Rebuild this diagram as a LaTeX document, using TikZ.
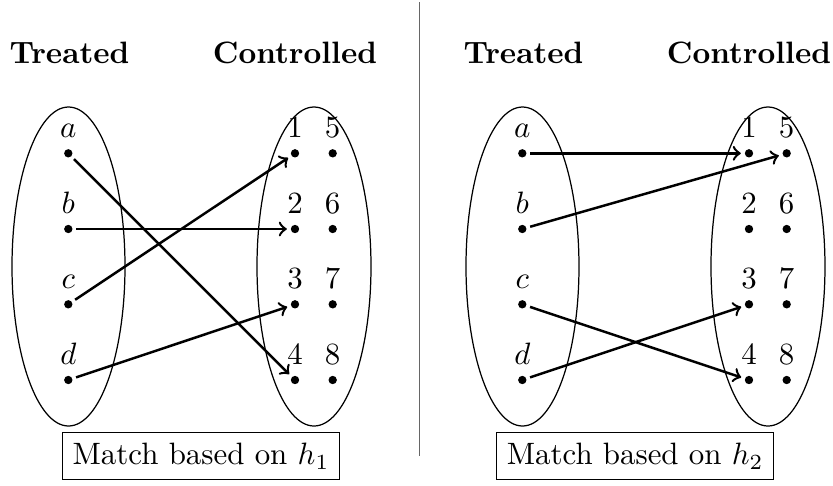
\documentclass[tikz,border=0pt]{standalone}
\begin{document}
\begin{tikzpicture}[x=0.3236pt,y=-0.3236pt,
  dot/.style={circle,fill,inner sep=0pt,minimum size=2.7pt,outer sep=1.3pt},
  lab/.style={anchor=base,inner sep=0pt},
  conn/.style={->,thick},
  setline/.style={draw,thin},
  hd/.style={font=\bfseries,anchor=base,inner sep=0pt},
  capbox/.style={draw,thin,inner sep=3.33pt},
  sepline/.style={draw=black!60,line width=0.5pt}]
\useasboundingbox (0,0) rectangle (833,485);
\foreach \p/\dx in {L/0,R/454} {
  \begin{scope}[shift={(\dx,0)}]
    \node[hd] (\p T) at (69.5,63.3) {Treated};
    \node[hd] (\p C) at (295,63.3) {Controlled};
    \draw[setline] (68.5,266.5) ellipse [x radius=56.5,y radius=159.5];
    \draw[setline] (314,266.5) ellipse [x radius=57,y radius=159.5];
    \foreach \n/\y in {a/153.3,b/229,c/304.3,d/380} {
      \node[dot] (\p\n) at (68.3,\y) {};
      \node[lab] (\p l\n) at (68.3,\y-15.6) {$\n$};
    }
    \foreach \n/\m/\y in {1/5/153.3,2/6/229,3/7/304.3,4/8/380} {
      \node[dot] (\p\n) at (295,\y) {};
      \node[dot] (\p\m) at (332.7,\y) {};
      \node[lab] (\p l\n) at (295,\y-15.6) {$\n$};
      \node[lab] (\p l\m) at (332.7,\y-15.6) {$\m$};
    }
  \end{scope}
}
\draw[conn] (La) -- (L4);
\draw[conn] (Lb) -- (L2);
\draw[conn] (Lc) -- (L1);
\draw[conn] (Ld) -- (L3);
\draw[conn] (Ra) -- (R1);
\draw[conn] (Rb) -- (R5);
\draw[conn] (Rc) -- (R4);
\draw[conn] (Rd) -- (R3);
\node[capbox] (Lcap) at (201,456) {Match based on $h_1$};
\node[capbox] (Rcap) at (635.2,456) {Match based on $h_2$};
\coordinate (septop) at (419.3,2);
\coordinate (sepbot) at (419.3,456);
\draw[sepline] (septop) -- (sepbot);
\end{tikzpicture}
\end{document}
